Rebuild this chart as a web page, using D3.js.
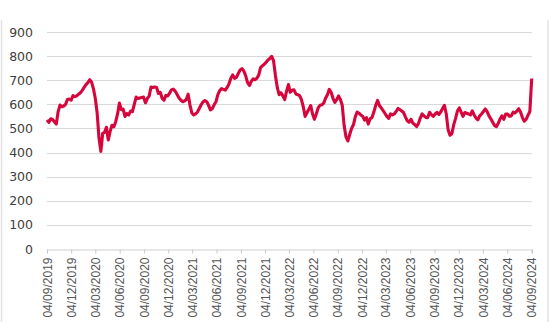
<!DOCTYPE html>
<html>
<head>
<meta charset="utf-8">
<script src="https://cdn.jsdelivr.net/npm/d3@7"></script>
<style>
  html, body { margin: 0; padding: 0; background: #ffffff; }
  svg { display: block; }
</style>
</head>
<body>
<svg id="chart" width="550" height="330"></svg>
<script>
// Weekly closing level, first observation on 04/09/2019, one value per week
const firstDate = "04/09/2019";
const weeklyClose = [
  535, 525, 540, 537, 528, 518, 570, 597, 590, 593,
  600, 620, 622, 617, 636, 632, 635, 642, 648, 658,
  670, 682, 690, 702, 692, 665, 625, 565, 460, 405,
  480, 484, 505, 452, 488, 513, 507, 528, 560, 605,
  578, 580, 550, 562, 556, 572, 570, 600, 630, 624,
  626, 628, 630, 606, 624, 634, 672, 670, 672, 670,
  645, 650, 625, 617, 637, 635, 646, 660, 663, 655,
  642, 627, 618, 611, 614, 620, 642, 597, 564, 556,
  560, 568, 583, 598, 610, 616, 611, 596, 577, 582,
  598, 611, 640, 657, 665, 662, 659, 670, 685, 708,
  722, 708, 712, 728, 742, 748, 738, 718, 690, 678,
  695, 706, 702, 708, 721, 752, 760, 766, 775, 784,
  790, 799, 780, 720, 670, 640, 648, 635, 620, 655,
  682, 650, 658, 660, 643, 640, 636, 620, 590, 550,
  565, 580, 595, 560, 538, 560, 585, 596, 598, 605,
  625, 640, 662, 650, 625, 608, 620, 635, 620, 595,
  512, 465, 448, 475, 500, 515, 548, 568, 563, 556,
  550, 535, 545, 518, 540, 545, 568, 596, 616, 595,
  585, 574, 562, 550, 542, 560, 556, 560, 570, 583,
  578, 572, 566, 548, 532, 526, 538, 522, 516, 508,
  520, 543, 560, 552, 546, 545, 567, 557, 550, 560,
  567, 558, 568, 583, 596, 560, 495, 472, 478, 515,
  542, 572, 585, 568, 550, 566, 563, 560, 556, 573,
  556, 543, 536, 552, 560, 570, 581, 570, 552, 540,
  526, 512, 508, 522, 540, 552, 538, 560, 560, 551,
  552, 568, 564, 572, 582, 568, 545, 530, 538, 555,
  570, 707
];

// Axis labels
const yTickValues = [0, 100, 200, 300, 400, 500, 600, 700, 800, 900];
const xTickLabels = [
  "04/09/2019", "04/12/2019", "04/03/2020", "04/06/2020", "04/09/2020",
  "04/12/2020", "04/03/2021", "04/06/2021", "04/09/2021", "04/12/2021",
  "04/03/2022", "04/06/2022", "04/09/2022", "04/12/2022", "04/03/2023",
  "04/06/2023", "04/09/2023", "04/12/2023", "04/03/2024", "04/06/2024",
  "04/09/2024"
];

const parse = d3.utcParse("%d/%m/%Y");
const start = parse(firstDate);
const series = weeklyClose.map((v, i) => ({ date: d3.utcDay.offset(start, i * 7), value: v }));
const tickDates = xTickLabels.map(parse);

const svg = d3.select("#chart");

// Panel frame
const frame = svg.append("g").attr("stroke", "#e2e2e2").attr("stroke-width", 1.5).attr("fill", "none");
frame.append("line").attr("x1", 1.5).attr("x2", 1.5).attr("y1", 20).attr("y2", 322);
frame.append("line").attr("x1", 548).attr("x2", 548).attr("y1", 20).attr("y2", 322);

const x = d3.scaleUtc()
  .domain([tickDates[0], tickDates[tickDates.length - 1]])
  .range([47, 531.7]);

const y = d3.scaleLinear()
  .domain([0, 900])
  .range([249, 32]);

// Horizontal gridlines
svg.append("g")
  .selectAll("line")
  .data(yTickValues.filter(d => d > 0))
  .join("line")
  .attr("x1", x.range()[0])
  .attr("x2", x.range()[1])
  .attr("y1", d => Math.round(y(d)) + 0.5)
  .attr("y2", d => Math.round(y(d)) + 0.5)
  .attr("stroke", "#d9d9d9")
  .attr("stroke-width", 1.2);

// Y axis labels
const yAxis = svg.append("g")
  .attr("transform", "translate(33,0)")
  .call(d3.axisLeft(y).tickValues(yTickValues).tickSize(0).tickPadding(0));
yAxis.select(".domain").remove();
yAxis.selectAll("text")
  .attr("font-family", "'DejaVu Sans', sans-serif")
  .attr("font-size", 12.5)
  .attr("fill", "#404040");

// X axis with date ticks
const xAxis = svg.append("g")
  .attr("transform", `translate(0,${Math.round(y(0)) + 0.5})`)
  .call(d3.axisBottom(x)
    .tickValues(tickDates)
    .tickFormat((d, i) => xTickLabels[i])
    .tickSizeOuter(0)
    .tickSize(4));
xAxis.select(".domain").attr("stroke", "#d0d0d0").attr("stroke-width", 1.2);
xAxis.selectAll(".tick line").attr("stroke", "#c8c8c8");
xAxis.selectAll("text")
  .attr("font-family", "'Liberation Sans', Arial, sans-serif")
  .attr("font-size", 12)
  .attr("fill", "#555555")
  .attr("text-anchor", "end")
  .attr("transform", "rotate(-90)")
  .attr("x", -8)
  .attr("y", 0)
  .attr("dy", "0.35em");

// Price line
const line = d3.line()
  .x(d => x(d.date))
  .y(d => y(d.value));

svg.append("path")
  .datum(series)
  .attr("d", line)
  .attr("fill", "none")
  .attr("stroke", "#d6053b")
  .attr("stroke-width", 3.1)
  .attr("stroke-linejoin", "round");
</script>
</body>
</html>
